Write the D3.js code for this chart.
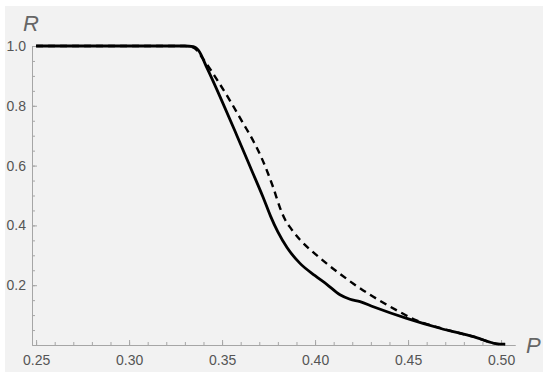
<!DOCTYPE html>
<meta charset="utf-8">
<style>
body { margin: 0; background: #fff; }
svg { display: block; }
.axis path, .axis line { stroke: #a6a6a6; stroke-width: 1px; }
.axis text { font-family: "Liberation Sans", Arial, sans-serif; font-size: 14px; fill: #555; }
.lbl { font-family: "Liberation Sans", Arial, sans-serif; font-style: italic; font-size: 22px; fill: #666; }
</style>
<body>
<script src="https://cdn.jsdelivr.net/npm/d3@7"></script>
<script>

// solid curve
var solidP = [0.25, 0.330, 0.3346, 0.3373, 0.3420, 0.3500, 0.3580, 0.3660, 0.3720, 0.3760, 0.3800, 0.3850, 0.3919, 0.4000, 0.4063, 0.4134, 0.4188, 0.4242, 0.4313, 0.4493, 0.4672, 0.4851, 0.4995, 0.5022];
var solidR = [1, 1, 0.998, 0.985, 0.925, 0.815, 0.700, 0.583, 0.495, 0.432, 0.378, 0.325, 0.273, 0.232, 0.203, 0.168, 0.153, 0.145, 0.128, 0.089, 0.056, 0.028, 0.003, 0.003];

// dashed curve
var dashP = [0.25, 0.330, 0.3346, 0.3400, 0.3470, 0.3540, 0.3610, 0.3670, 0.3720, 0.3776, 0.3812, 0.3840, 0.3870, 0.3919, 0.4000, 0.4063, 0.4134, 0.4206, 0.4296, 0.4349, 0.4457, 0.4528, 0.4672, 0.4851, 0.4995, 0.5022];
var dashR = [1, 1, 0.995, 0.955, 0.890, 0.820, 0.745, 0.680, 0.615, 0.525, 0.458, 0.418, 0.390, 0.352, 0.305, 0.272, 0.238, 0.205, 0.168, 0.148, 0.110, 0.087, 0.057, 0.028, 0.003, 0.003];

var xTicks = [0.25, 0.30, 0.35, 0.40, 0.45, 0.50];
var yTicks = [0.2, 0.4, 0.6, 0.8, 1.0];

var width = 550, height = 378;

var svg = d3.select("body").append("svg")
	.attr("width", width)
	.attr("height", height);

svg.append("rect")
	.attr("x", 5).attr("y", 6)
	.attr("width", 538).attr("height", 366)
	.attr("fill", "#f2f2f2");

var x = d3.scaleLinear().domain([0.2478, 0.5075]).range([32, 515]);
var y = d3.scaleLinear().domain([0, 1]).range([345, 46]);

var xMinor = d3.range(25, 51).map(function(d) { return d / 100; });
var yMinor = d3.range(1, 21).map(function(d) { return d / 20; });

// minor ticks
svg.append("g")
	.attr("class", "axis")
	.attr("transform", "translate(0," + y(0) + ")")
	.call(d3.axisBottom(x).tickValues(xMinor).tickSize(-3).tickSizeOuter(0).tickFormat(""));
svg.append("g")
	.attr("class", "axis")
	.attr("transform", "translate(" + x.range()[0] + ",0)")
	.call(d3.axisLeft(y).tickValues(yMinor).tickSize(-3).tickSizeOuter(0).tickFormat(""));

// major ticks
var gx = svg.append("g")
	.attr("class", "axis")
	.attr("transform", "translate(0," + y(0) + ")")
	.call(d3.axisBottom(x).tickValues(xTicks).tickSize(-5).tickSizeOuter(0).tickPadding(8).tickFormat(d3.format(".2f")));
gx.selectAll("text").attr("dy", "0.85em");

var gy = svg.append("g")
	.attr("class", "axis")
	.attr("transform", "translate(" + x.range()[0] + ",0)")
	.call(d3.axisLeft(y).tickValues(yTicks).tickSize(-5).tickSizeOuter(0).tickPadding(6).tickFormat(d3.format(".1f")));
gy.selectAll("line").attr("x2", 5);

// axis labels
svg.append("text").attr("class", "lbl").attr("x", 23).attr("y", 31).text("R");
svg.append("text").attr("class", "lbl").attr("x", 526).attr("y", 353).text("P");

var line = d3.line()
	.x(function(d) { return x(d[0]); })
	.y(function(d) { return y(d[1]); })
	.curve(d3.curveMonotoneX);

var dashData = dashP.map(function(p, i) { return [p, dashR[i]]; });
var solidData = solidP.map(function(p, i) { return [p, solidR[i]]; });

svg.append("path")
	.datum(dashData)
	.attr("d", line)
	.attr("fill", "none")
	.attr("stroke", "#000")
	.attr("stroke-width", 2.4)
	.attr("stroke-dasharray", "7,5");

svg.append("path")
	.datum(solidData)
	.attr("d", line)
	.attr("fill", "none")
	.attr("stroke", "#000")
	.attr("stroke-width", 2.8);

</script>
</body>
